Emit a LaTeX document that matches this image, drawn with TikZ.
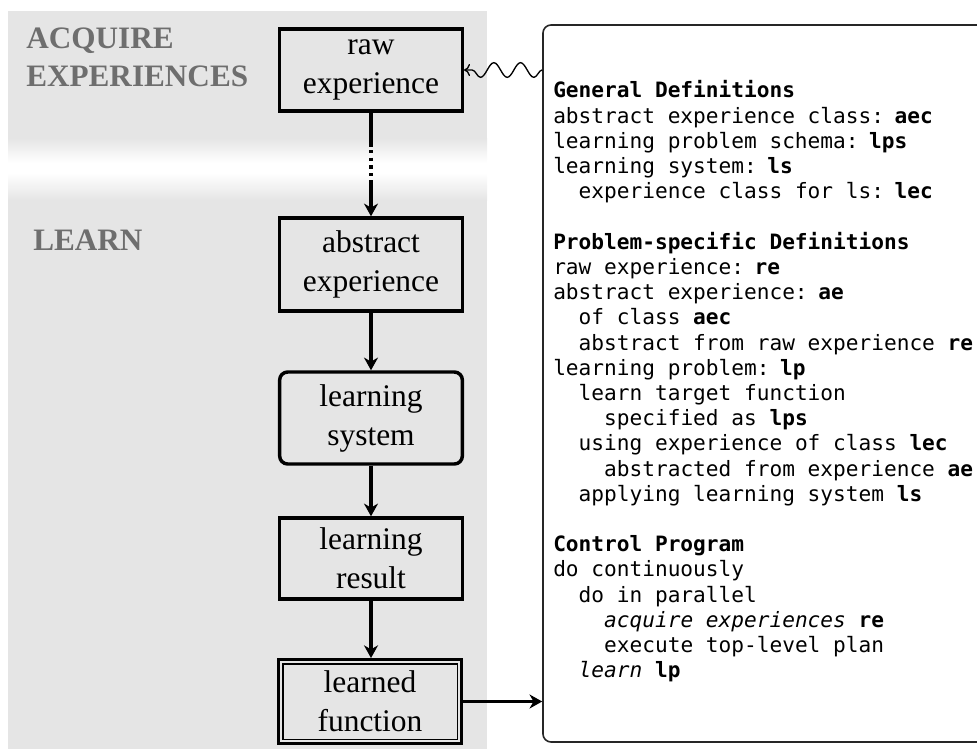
\documentclass[tikz,border=0pt]{standalone}
\usepackage{fontspec}
\setmainfont{Liberation Serif}
\setmonofont{DejaVu Sans Mono}
\usetikzlibrary{arrows.meta,decorations.pathmorphing}
\definecolor{panel}{RGB}{229,229,229}
\definecolor{lbl}{RGB}{110,110,110}
\newcommand\ii{\hphantom{xx}}
\newcommand\monofnt{\fontsize{15.85}{18.9}\selectfont\ttfamily}
\begin{document}
\begin{tikzpicture}[x=0.75pt,y=-0.75pt,
  boxs/.style={draw, line width=2.6pt, minimum width=137pt, inner sep=0pt, align=center,
    font=\fontsize{23.6}{29.25}\selectfont},
  flow/.style={line width=2.3pt, -{Stealth[length=9.5pt,width=10.5pt,inset=3pt]}},
  lab/.style={anchor=base west, inner sep=0pt, text=lbl, font=\fontsize{23.4}{28.5}\selectfont\bfseries},
]
\useasboundingbox (0,0) rectangle (977,749);
% background panel with faded band
\fill[panel] (8,11) rectangle (487,749);
\shade[top color=panel, bottom color=white] (8,138) rectangle (487,163);
\fill[white] (8,163) rectangle (487,173);
\shade[top color=white, bottom color=panel] (8,173) rectangle (487,200);

% labels
\node[lab] (acq1) at (26,49) {ACQUIRE};
\node[lab] (acq2) at (26,87) {EXPERIENCES};
\node[lab] (learn) at (33,250) {LEARN};

% flow boxes
\node[boxs, minimum height=61.5pt] (raw) at (371,70) {raw\\experience};
\node[boxs, minimum height=69.75pt] (abs) at (371,264.5) {abstract\\experience};
\node[boxs, minimum height=69pt, rounded corners=6pt] (ls) at (371,418) {learning\\system};
\node[boxs, minimum height=60.75pt] (lr) at (371,558.5) {learning\\result};
\node[boxs, minimum height=63pt, line width=2.2pt, minimum width=137.25pt] (lf) at (370,701.5) {learned\\function};
\draw[line width=1.3pt] ([shift={(5.6,5.6)}]lf.north west) rectangle ([shift={(-5.6,-5.6)}]lf.south east);

% right frame
\node[draw=black!85, line width=1.2pt, rounded corners=6pt, minimum width=342.75pt,
  minimum height=537.75pt, inner sep=0pt] (frame) at (771.5,383.5) {};

\node[anchor=base west, inner sep=0pt, text width=330pt, align=left,
  font=\monofnt] (defs) at (553,98) {\spaceskip=0.602em\relax
\textbf{General Definitions}\\
abstract experience class: \textbf{aec}\\
learning problem schema: \textbf{lps}\\
learning system: \textbf{ls}\\
\ii experience class for ls: \textbf{lec}\\[18.9pt]
\textbf{Problem-specific Definitions}\\
raw experience: \textbf{re}\\
abstract experience: \textbf{ae}\\
\ii of class \textbf{aec}\\
\ii abstract from raw experience \textbf{re}\\
learning problem: \textbf{lp}\\
\ii learn target function\\
\ii\ii specified as \textbf{lps}\\
\ii using experience of class \textbf{lec}\\
\ii\ii abstracted from experience \textbf{ae}\\
\ii applying learning system \textbf{ls}\\[18.9pt]
\textbf{Control Program}\\
do continuously\\
\ii do in parallel\\
\ii\ii \textit{acquire experiences} \textbf{re}\\
\ii\ii execute top-level plan\\
\ii \textit{learn} \textbf{lp}};

% connectors
\coordinate (g1) at (371,147);
\coordinate (g2) at (371,150);
\coordinate (g3) at (371,177);
\coordinate (g4) at (371,180);
\draw[line width=2.3pt] (raw.south) -- (g1);
\draw[line width=2.3pt, dash pattern=on 2.4pt off 3.4pt] (g2) -- (g3);
\draw[flow] (g4) -- (abs.north);
\draw[flow] (abs.south) -- (ls.north);
\draw[flow] (ls.south) -- (lr.north);
\draw[flow] (lr.south) -- (lf.north -| lr.south);
\draw[flow] (lf.east) -- (lf.east -| frame.west);
\draw[line width=1pt, decorate,
  decoration={snake, amplitude=5.5pt, segment length=20pt, post length=5pt},
  -{To[length=4.5pt,width=9pt]}] (raw.east -| frame.west) -- (raw.east);
\end{tikzpicture}
\end{document}
